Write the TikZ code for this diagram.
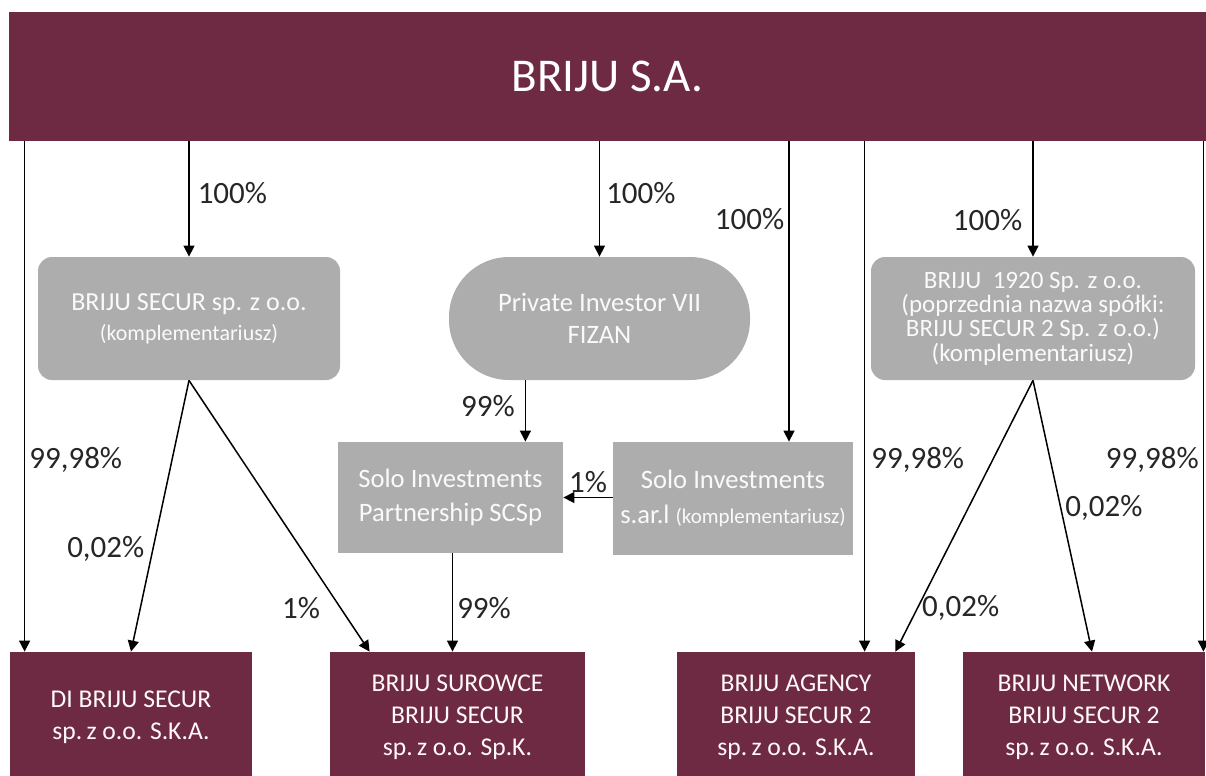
\documentclass[tikz,border=0pt]{standalone}
\usepackage{fontspec}
\setmainfont{Carlito}
\usepackage{tikz}
\usetikzlibrary{positioning}
\usetikzlibrary{calc}
\usetikzlibrary{arrows.meta}
\definecolor{briju}{RGB}{110,42,67}
\definecolor{boxgray}{RGB}{173,173,173}
\tikzset{basic box/.style={draw=none,inner sep=0pt,align=center}}
\tikzset{company/.style={basic box,fill=briju,text=white!90!pink,
                         font=\fontsize{12.8}{16}\selectfont}}
\tikzset{partner/.style={basic box,fill=boxgray,text=white!94!boxgray}}
\tikzset{share/.style={draw,
                       line width=0.75pt,
                       -{Triangle[length=5.5pt,width=5.5pt]}}}
\tikzset{pct/.style={font=\fontsize{15.5}{18}\selectfont,text=black!85,inner sep=2pt}}
\newcommand{\KOMPL}{(komplementariusz)}
\newcommand{\SKA}{sp.\,z o.o. S.K.A.}

\begin{document}
\begin{tikzpicture}[x=0.5pt,y=-0.5pt]
      \useasboundingbox (0,0) rectangle (1206,776);

      % parent
      \node [basic box,fill=briju,text=white,minimum width=598.5pt,minimum height=64.5pt,
      font=\fontsize{23.5}{28}\selectfont] (top) at (607.5,76.5) {BRIJU S.A.};

      % partners and funds
      \node [partner,rounded corners=7pt,minimum width=151pt,minimum height=61.5pt,
      font=\fontsize{13}{15}\selectfont] (secur) at (189,318.5)
      {BRIJU SECUR sp. z o.o.\\{\fontsize{11}{15}\selectfont \KOMPL}};

      \node [partner,rounded corners=30pt,minimum width=150.5pt,minimum height=61.5pt,
      font=\fontsize{13.3}{16}\selectfont] (pi) at (599.5,318.5)
      {Private Investor VII\\FIZAN};

      \node [partner,rounded corners=7pt,minimum width=162pt,minimum height=61.5pt,
      font=\fontsize{12.5}{10}\selectfont] (b1920) at (1033,318.5)
      {BRIJU\ \ 1920 Sp. z o.o.\\(poprzednia nazwa spółki:\\BRIJU SECUR 2 Sp. z o.o.)\\\KOMPL};

      \node [partner,minimum width=112.5pt,minimum height=55.5pt,
      font=\fontsize{13.3}{17}\selectfont] (part) at (450.5,497.5)
      {Solo Investments\\Partnership SCSp};

      \node [partner,minimum width=120pt,minimum height=56.5pt,
      font=\fontsize{13.3}{17.5}\selectfont] (sarl) at (733,498.5)
      {Solo Investments\\s.ar.l {\fontsize{10.5}{17.5}\selectfont \KOMPL}};

      % companies
      \node [company,minimum width=121pt,minimum height=65pt] (di) at (131,717)
      {DI BRIJU SECUR\\\SKA};
      \node [company,minimum width=127.5pt,minimum height=65pt] (sur) at (457.5,717)
      {BRIJU SUROWCE\\BRIJU SECUR\\sp.\,z o.o. Sp.K.};
      \node [company,minimum width=119pt,minimum height=65pt] (ag) at (796,717)
      {BRIJU AGENCY\\BRIJU SECUR 2\\\SKA};
      \node [company,minimum width=121pt,minimum height=65pt] (net) at (1084,717)
      {BRIJU NETWORK\\BRIJU SECUR 2\\\SKA};

      % arrow ends
      \coordinate (di0) at ($(di.north west)+(15,0)$);
      \coordinate (ag0) at ($(ag.north west)+(188,0)$);
      \coordinate (ag1) at ($(ag.north east)+(-20,0)$);
      \coordinate (net0) at ($(net.north east)+(-2,0)$);
      \coordinate (net1) at ($(net.north)+(8,0)$);
      \coordinate (sur1) at ($(sur.north west)+(40,0)$);
      \coordinate (sur0) at ($(sur.north)+(-5,0)$);
      \coordinate (part0) at ($(part.north east)+(-38,0)$);
      \coordinate (sarl0) at ($(sarl.north)+(56,0)$);

      % shares of BRIJU S.A.
      \draw [share] (di0 |- top.south) -- node [pct,pos=0.624,anchor=west] (l1) {99,98\%} (di0);
      \draw [share] (secur.north |- top.south) -- node [pct,pos=0.45,anchor=west,xshift=2pt] (l2) {100\%} (secur.north);
      \draw [share] (pi.north |- top.south) -- node [pct,pos=0.45,anchor=west,xshift=1pt] (l3) {100\%} (pi.north);
      \draw [share] (sarl0 |- top.south) -- node [pct,pos=0.26,anchor=east] (l4) {100\%} (sarl0);
      \draw [share] (ag0 |- top.south) -- node [pct,pos=0.624,anchor=west,xshift=1pt] (l5) {99,98\%} (ag0);
      \draw [share] (b1920.north |- top.south) -- node [pct,pos=0.68,anchor=east,xshift=-3pt] (l6) {100\%} (b1920.north);
      \draw [share] (net0 |- top.south) -- node [pct,pos=0.624,anchor=east] (l7) {99,98\%} (net0);

      % other shares
      \draw [share] (secur.south) -- node [pct,pos=0.62,anchor=east,xshift=-2pt] (l8) {0,02\%} (di.north);
      \draw [share] (secur.south) -- node [pct,pos=0.84,anchor=east,xshift=-8pt] (l9) {1\%} (sur1);
      \draw [share] (part0 |- pi.south) -- node [pct,pos=0.42,anchor=east,xshift=-3pt] (l10) {99\%} (part0);
      \draw [share] (sarl.west |- part.east) -- node [pct,pos=0.5,above] (l11) {1\%} (part.east);
      \draw [share] (sur0 |- part.south) -- node [pct,pos=0.556,anchor=west] (l12) {99\%} (sur0);
      \draw [share] (b1920.south) -- node [pct,pos=0.84,anchor=west] (l13) {0,02\%} (ag1);
      \draw [share] (b1920.south) -- node [pct,pos=0.47,anchor=west] (l14) {0,02\%} (net1);

\end{tikzpicture}
\end{document}
